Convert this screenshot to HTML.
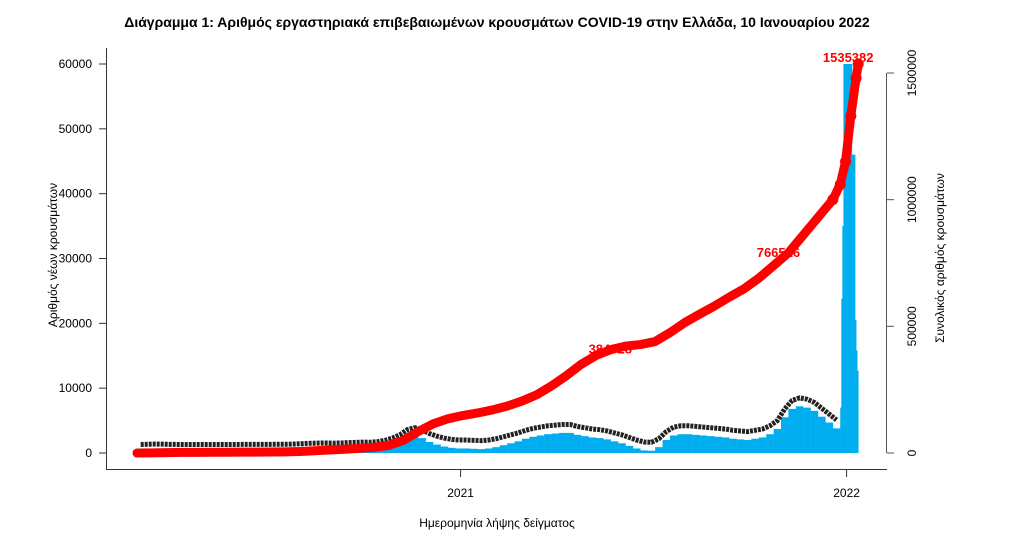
<!DOCTYPE html>
<html><head><meta charset="utf-8"><style>
body{margin:0;background:#fff;width:1015px;height:538px;overflow:hidden}
text{font-family:"Liberation Sans","DejaVu Sans",sans-serif}
</style></head><body>
<svg id="chart" width="1015" height="538" viewBox="0 0 1015 538">
<text x="497" y="27" text-anchor="middle" font-size="14" font-weight="bold">Διάγραμμα 1: Αριθμός εργαστηριακά επιβεβαιωμένων κρουσμάτων COVID-19 στην Ελλάδα, 10 Ιανουαρίου 2022</text>
<g id="bars"></g>
<g id="black"></g>
<g id="red"></g>
<g id="axes"></g>
<text x="497" y="527" text-anchor="middle" font-size="12">Ημερομηνία λήψης δείγματος</text>
<text transform="translate(57,255) rotate(-90)" text-anchor="middle" font-size="12">Αριθμός νέων κρουσμάτων</text>
<text transform="translate(944,258) rotate(-90)" text-anchor="middle" font-size="12">Συνολικός αριθμός κρουσμάτων</text>
</svg>
<script>
const weeklyNewCases=[20,50,80,60,30,20,15,15,10,10,10,15,20,20,25,30,30,35,40,45,60,100,150,200,230,250,220,250,300,330,380,360,450,650,1000,1500,2300,2600,2300,1700,1300,1000,800,700,700,650,600,700,900,1200,1500,1800,2200,2500,2700,2900,3000,3100,3100,2800,2600,2400,2300,2100,1800,1500,1100,700,400,350,900,2000,2700,2900,2900,2800,2700,2600,2500,2400,2200,2100,2000,2200,2400,2900,3700,5500,6800,7200,7000,6500,5600,4700,3800];
const dailyDays=[665,666,667,668,669,670,671,672,673,674,675,676,677,678,679,680,681];
const dailyValues=[7000,23800,35000,60000,60000,60000,60000,60000,60000,60000,60000,46000,46000,46000,20500,15800,12700];
const cumDays=[0,14,28,42,56,70,84,98,112,126,140,154,168,182,196,210,224,238,252,266,280,294,308,322,336,350,364,378,392,406,420,434,448,462,476,490,504,518,532,546,560,574,588,602,616,630,644,658,665,670,675,680,682];
const cumValues=[0,300,1600,2500,2700,2900,3100,3300,3500,3900,4500,6000,9000,12000,15000,18000,22000,30000,50000,85000,115000,135000,148000,158000,170000,185000,205000,230000,265000,305000,350000,385000,408000,422000,428000,440000,475000,515000,548000,580000,615000,648000,690000,740000,790000,860000,930000,1000000,1060000,1150000,1330000,1480000,1535382];
const leftTicks=[0,10000,20000,30000,40000,50000,60000];
const rightTicks=[0,500000,1000000,1500000];
const xTickLabels=["2021","2022"];
const xTickDays=[306,671];
const annotDays=[457,616,682];
const annotValues=[384028,766516,1535382];

const NS="http://www.w3.org/2000/svg";
const xs=d=>137+d*1.0575;
const yl=v=>453-v*(389/60000);
const yr=v=>453-v*(380/1500000);
function mk(tag,attrs,parent){const e=document.createElementNS(NS,tag);for(const k in attrs)e.setAttribute(k,attrs[k]);parent.appendChild(e);return e;}
const gb=document.getElementById('bars'),gk=document.getElementById('black'),gr=document.getElementById('red'),ga=document.getElementById('axes');

weeklyNewCases.forEach((v,i)=>{
  const r=mk('rect',{x:xs(i*7),y:yl(v),width:7.6,height:453-yl(v),fill:'#00AEEF'},gb);
  
  
});
dailyDays.forEach((d,i)=>{
  const v=dailyValues[i];
  const r=mk('rect',{x:xs(d),y:yl(v),width:1.4,height:453-yl(v),fill:'#00AEEF'},gb);
  
  
});
let pts=weeklyNewCases.map((v,i)=>xs(i*7+3.5)+','+yl(v+1300)).join(' ');
const pl=mk('polyline',{points:pts,fill:'none',stroke:'#222',"stroke-width":5,"stroke-linejoin":'round',"stroke-dasharray":'3 1'},gk);



const rp=cumDays.map((d,i)=>xs(d)+','+yr(cumValues[i])).join(' ');
const rl=mk('polyline',{points:rp,fill:'none',stroke:'#f00',"stroke-width":9,"stroke-linejoin":'round',"stroke-linecap":'round'},gr);


cumDays.forEach((d,i)=>{if(d>=658){const c=mk('circle',{cx:xs(d),cy:yr(cumValues[i]),r:5.5,fill:'#f00'},gr);
  
  }});
annotDays.forEach((d,i)=>{const t=mk('text',{x:xs(d)-10,y:yr(annotValues[i])-2,"text-anchor":'middle',"font-size":13,"font-weight":'bold',fill:'#f00'},gr);t.textContent=annotValues[i];
  
  });

mk('line',{x1:106.5,y1:48,x2:106.5,y2:469,stroke:'#333'},ga);
mk('line',{x1:106,y1:469.5,x2:887,y2:469.5,stroke:'#333'},ga);
mk('line',{x1:886.5,y1:yr(1500000),x2:886.5,y2:453,stroke:'#555'},ga);
leftTicks.forEach(v=>{mk('line',{x1:99,y1:yl(v),x2:106,y2:yl(v),stroke:'#333'},ga);
  const t=mk('text',{x:92,y:yl(v)+4,"text-anchor":'end',"font-size":12},ga);t.textContent=v;
  
  });
rightTicks.forEach(v=>{mk('line',{x1:887,y1:yr(v),x2:894,y2:yr(v),stroke:'#555'},ga);
  const t=mk('text',{transform:`translate(916,${yr(v)}) rotate(-90)`,"text-anchor":'middle',"font-size":12},ga);t.textContent=v;
  
  });
xTickDays.forEach((d,i)=>{mk('line',{x1:xs(d),y1:469,x2:xs(d),y2:477,stroke:'#333'},ga);
  const t=mk('text',{x:xs(d),y:497,"text-anchor":'middle',"font-size":12},ga);t.textContent=xTickLabels[i];
  
  });
</script>
</body></html>
